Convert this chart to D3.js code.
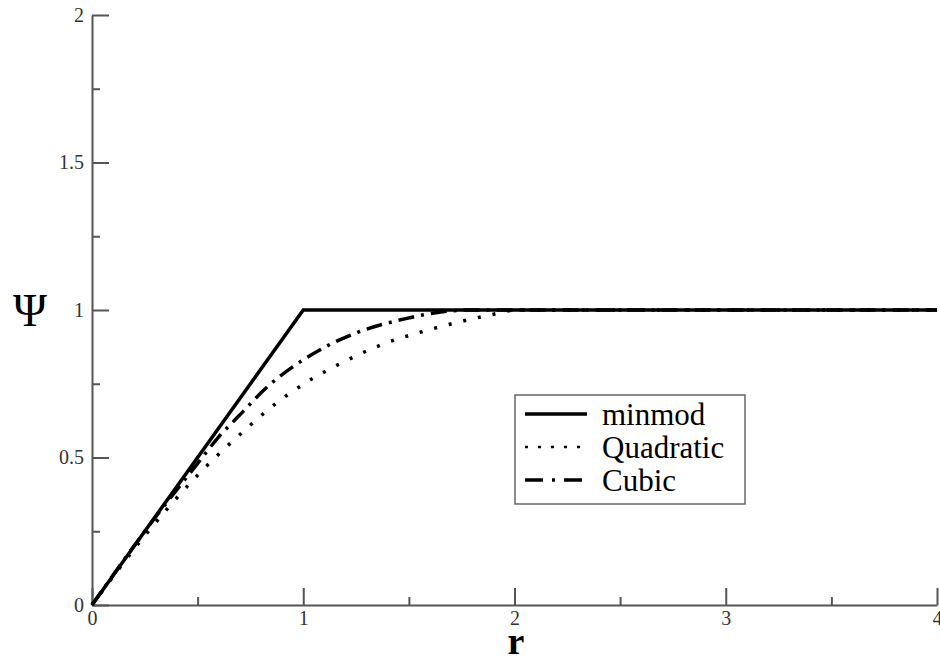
<!DOCTYPE html>
<html>
<head>
<meta charset="utf-8">
<script src="https://cdn.jsdelivr.net/npm/d3@7"></script>
<style>
  body { margin: 0; background: #fff; }
</style>
</head>
<body>
<div id="chart"></div>
<script>
// data
var minmodR = [0, 1, 4];
var minmodPsi = [0, 1, 1];

var quadR = [0, 0.25, 0.5, 0.75, 0.82, 1.05, 1.18, 1.38, 1.58, 1.8, 1.93, 2.0, 4];
var quadPsi = [0, 0.235, 0.44, 0.61, 0.654, 0.77, 0.82, 0.885, 0.93, 0.97, 0.99, 1.0, 1];

var cubicR = [0, 0.25, 0.5, 0.6, 0.69, 0.84, 0.95, 1.14, 1.26, 1.48, 1.62, 1.78, 4];
var cubicPsi = [0, 0.25, 0.48, 0.57, 0.637, 0.746, 0.807, 0.888, 0.925, 0.97, 0.99, 1.0, 1];

var xMajor = [0, 1, 2, 3, 4];
var xMinor = [0.5, 1.5, 2.5, 3.5];
var yMajor = [0, 0.5, 1, 1.5, 2];
var yMinor = [0.25, 0.75, 1.25, 1.75];
var yTickLabels = ["0", "0.5", "1", "1.5", "2"];

var legendNames = ["minmod", "Quadratic", "Cubic"];

// svg container
var svgWidth = 940;
var svgHeight = 661;
var serif = "'Liberation Serif', 'Times New Roman', serif";

var svg = d3.select("#chart")
  .append("svg")
  .attr("width", svgWidth)
  .attr("height", svgHeight);

var x = d3.scaleLinear().domain([0, 4]).range([92, 937]);
var y = d3.scaleLinear().domain([0, 2]).range([605, 15]);

function styleAxis(g) {
  g.selectAll("path, line").attr("stroke", "#555").attr("stroke-width", 2);
  g.selectAll("text")
    .attr("fill", "#333")
    .style("font-family", serif)
    .style("font-size", "20px");
}

// minor ticks first, then major axes on top
svg.append("g")
  .attr("transform", "translate(0,605)")
  .call(d3.axisBottom(x).tickValues(xMinor).tickSize(-8).tickFormat(""))
  .call(styleAxis)
  .select(".domain").remove();

svg.append("g")
  .attr("transform", "translate(92,0)")
  .call(d3.axisLeft(y).tickValues(yMinor).tickSize(-8).tickFormat(""))
  .call(styleAxis)
  .select(".domain").remove();

svg.append("g")
  .attr("transform", "translate(0,605)")
  .call(d3.axisBottom(x).tickValues(xMajor).tickSizeInner(-17).tickSizeOuter(0).tickPadding(6).tickFormat(d3.format("d")))
  .call(styleAxis);

svg.append("g")
  .attr("transform", "translate(92,0)")
  .call(d3.axisLeft(y).tickValues(yMajor).tickSizeInner(-17).tickSizeOuter(0).tickPadding(8)
    .tickFormat(function(d, i) { return yTickLabels[i]; }))
  .call(styleAxis);

// axis titles
svg.append("text")
  .attr("x", 516)
  .attr("y", 654)
  .attr("text-anchor", "middle")
  .style("font-family", serif)
  .style("font-weight", "bold")
  .style("font-size", "38px")
  .text("r");

svg.append("text")
  .attr("x", 30)
  .attr("y", 326)
  .attr("text-anchor", "middle")
  .style("font-family", serif)
  .style("font-size", "46px")
  .text("Ψ");

// lines
var line = d3.line()
  .x(function(d) { return x(d[0]); })
  .y(function(d) { return y(d[1]); });

var series = [
  { r: quadR, psi: quadPsi, dash: "3,12", curve: d3.curveMonotoneX },
  { r: cubicR, psi: cubicPsi, dash: "16,7,3,7", curve: d3.curveMonotoneX },
  { r: minmodR, psi: minmodPsi, dash: null, curve: d3.curveLinear }
];

series.forEach(function(s) {
  var pts = s.r.map(function(r, i) { return [r, s.psi[i]]; });
  svg.append("path")
    .datum(pts)
    .attr("d", line.curve(s.curve))
    .attr("fill", "none")
    .attr("stroke", "#000")
    .attr("stroke-width", 3.5)
    .attr("stroke-dasharray", s.dash);
});

// legend
var legend = svg.append("g");
legend.append("rect")
  .attr("x", 515)
  .attr("y", 395)
  .attr("width", 230)
  .attr("height", 109)
  .attr("fill", "#fff")
  .attr("stroke", "#666")
  .attr("stroke-width", 1.5);

var legendDash = [null, "3,10", "18,9,3,9"];
legendNames.forEach(function(name, i) {
  var ly = 414 + i * 33;
  legend.append("line")
    .attr("x1", 525).attr("x2", 587)
    .attr("y1", ly).attr("y2", ly)
    .attr("stroke", "#000")
    .attr("stroke-width", i === 1 ? 2.5 : 3.5)
    .attr("stroke-dasharray", legendDash[i]);
  legend.append("text")
    .attr("x", 602)
    .attr("y", ly + 11)
    .style("font-family", serif)
    .style("font-size", "31px")
    .text(name);
});
</script>
</body>
</html>
